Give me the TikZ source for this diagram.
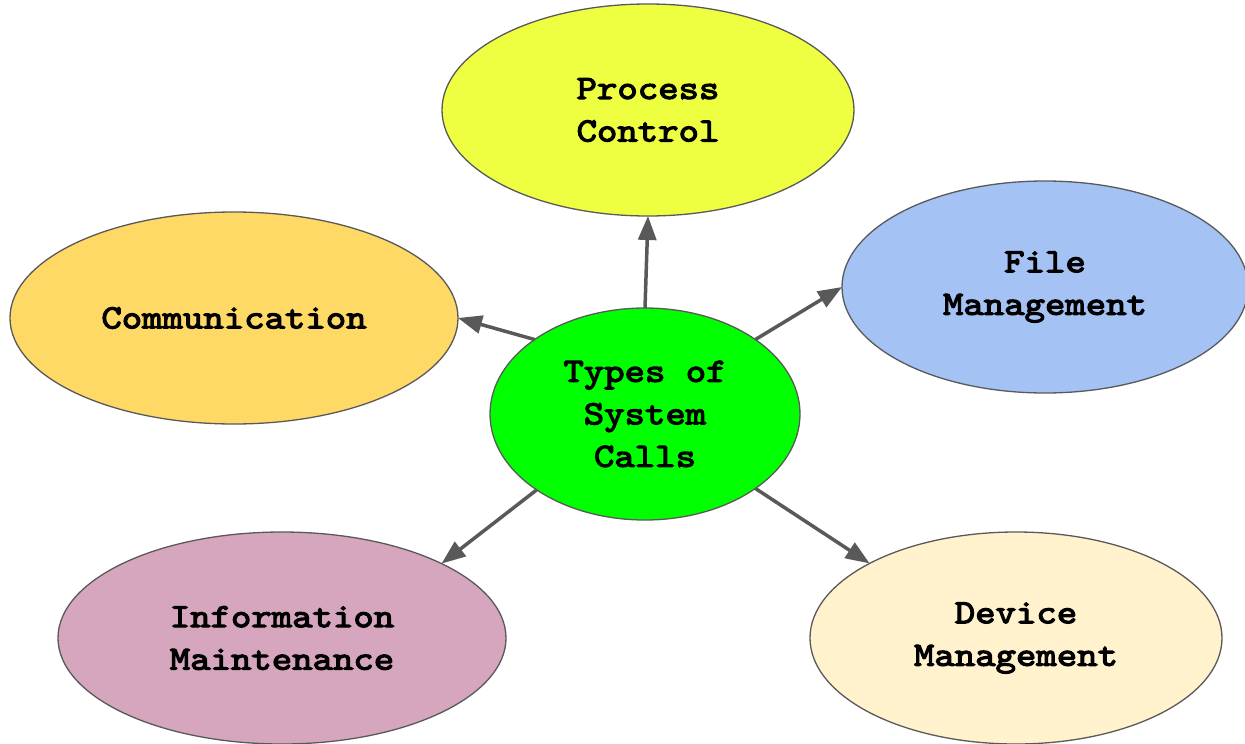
\documentclass[tikz,border=0pt]{standalone}
\usepackage{fontspec}
\newfontfamily\labelfont{lmmono10-regular.otf}[FakeStretch=1.143,FakeBold=3.5]
\usetikzlibrary{shapes.geometric,arrows.meta}
\definecolor{edgegray}{HTML}{595959}
\definecolor{pcyellow}{HTML}{EEFF41}
\definecolor{typesgreen}{HTML}{00FF00}
\definecolor{fileblue}{HTML}{A4C2F4}
\definecolor{commorange}{HTML}{FFD966}
\definecolor{infopink}{HTML}{D5A6BD}
\definecolor{devcream}{HTML}{FFF2CC}
\begin{document}
\begin{tikzpicture}[x=1pt,y=-1pt,
    bubble/.style={ellipse,draw=edgegray,line width=1.3pt,inner sep=0,outer sep=0,
      minimum height=212pt,align=center,
      font=\labelfont\fontsize{34}{42.5}\selectfont},
    link/.style={draw=edgegray,line width=3.5pt,-{Triangle[length=24pt,width=18pt]}}]
  \useasboundingbox (0,0) rectangle (1245,744);
  \node [bubble,fill=typesgreen,minimum width=310pt] (types) at (645,414) {Types of\\System\\Calls};
  \node [bubble,fill=pcyellow,minimum width=412pt] (pc) at (648,110) {Process\\Control};
  \node [bubble,fill=fileblue,minimum width=406pt] (file) at (1045,287) {File\\Management};
  \node [bubble,fill=commorange,minimum width=448pt] (comm) at (234,318) {Communication};
  \node [bubble,fill=infopink,minimum width=448pt] (info) at (282,638) {Information\\Maintenance};
  \node [bubble,fill=devcream,minimum width=412pt] (dev) at (1016,638) {Device\\Management};
  \draw[link] (types.north) -- (pc.south);
  \draw[link] (types.34) -- (file.west);
  \draw[link] (types.146) -- (comm.east);
  \draw[link] (types.215) -- (info.25);
  \draw[link] (types.326) -- (dev.153);
\end{tikzpicture}
\end{document}
